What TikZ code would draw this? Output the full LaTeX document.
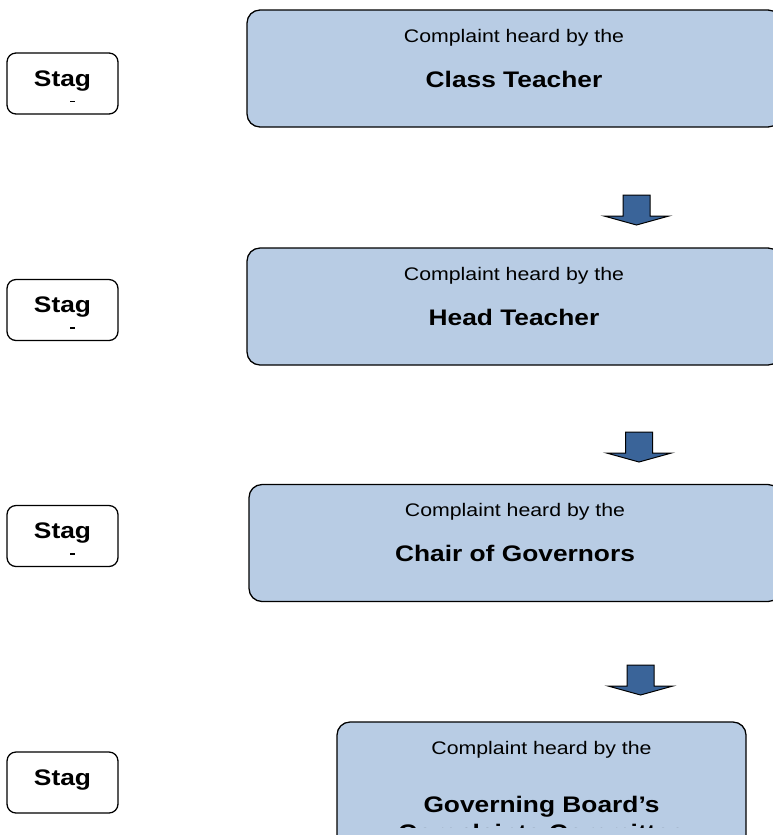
\documentclass[tikz,border=0pt]{standalone}
\usepackage{fontspec}
\setmainfont{Liberation Sans}[FakeStretch=1.17]
\usetikzlibrary{calc}
\definecolor{heardblue}{HTML}{B8CCE4}
\definecolor{dropblue}{HTML}{3A6499}
\def\blockdown(#1){\draw[line width=0.35mm, fill=dropblue, shift={(#1)}] (-13.5, 0) -- (13.5, 0) -- (13.5, 21) -- (32.5, 21) -- (0, 30) -- (-32.5, 21) -- (-13.5, 21) -- cycle;}

\begin{document}
\begin{tikzpicture}[x=1pt, y=-1pt,
		stagebox/.style={draw, line width=0.45mm, rounded corners=9pt, minimum width=111pt, minimum height=61pt, inner sep=0pt},
		heardbox/.style={draw, fill=heardblue, line width=0.45mm, rounded corners=13pt, minimum height=117pt, inner sep=0pt},
		lead/.style={font=\fontsize{18.2}{22}\selectfont, anchor=base, inner sep=0pt},
		who/.style={font=\bfseries\fontsize{22.5}{27}\selectfont, anchor=base, inner sep=0pt}]
		%%%%% START %%%%%
		
		\useasboundingbox (0, 0) rectangle (773, 835);
		
		\node[stagebox] (stage1) at (62.5, 83.5) {};
		\node[who] (stag1) at ([yshift=-34pt]stage1.north) {Stag};
		\fill (70, 100.5) rectangle (75, 102);
		
		\node[stagebox] (stage2) at (62.5, 310) {};
		\node[who] (stag2) at ([yshift=-34pt]stage2.north) {Stag};
		\fill (70, 327) rectangle (75, 328.5);
		
		\node[stagebox] (stage3) at (62.5, 536) {};
		\node[who] (stag3) at ([yshift=-34pt]stage3.north) {Stag};
		\fill (70, 553) rectangle (75, 554.5);
		
		\node[stagebox] (stage4) at (62.5, 782.5) {};
		\node[who] (stag4) at ([yshift=-34pt]stage4.north) {Stag};
		
		\node[heardbox, minimum width=534pt] (heard1) at (514, 68.5) {};
		\node[lead] (lead1) at ([yshift=-33pt]heard1.north) {Complaint heard by the};
		\node[who] (who1) at ([yshift=-78pt]heard1.north) {Class Teacher};
		
		\node[heardbox, minimum width=534pt] (heard2) at (514, 306.5) {};
		\node[lead] (lead2) at ([yshift=-33pt]heard2.north) {Complaint heard by the};
		\node[who] (who2) at ([yshift=-78pt]heard2.north) {Head Teacher};
		
		\node[heardbox, minimum width=532pt] (heard3) at (515, 543) {};
		\node[lead] (lead3) at ([yshift=-33pt]heard3.north) {Complaint heard by the};
		\node[who] (who3) at ([yshift=-78pt]heard3.north) {Chair of Governors};
		
		\node[heardbox, minimum width=409pt, minimum height=140pt] (heard4) at (541.5, 792) {};
		\node[lead] (lead4) at ([yshift=-33pt]heard4.north) {Complaint heard by the};
		\node[who] (who4) at ([yshift=-91pt]heard4.north) {Governing Board’s};
		\begin{scope}
			\clip (337, 722) rectangle (746, 827);
			\node[who] (who4b) at ([yshift=-119pt]heard4.north) {Complaints Committee};
		\end{scope}
		
		\coordinate (drop1) at (636.5, 195);
		\coordinate (drop2) at (639, 432);
		\coordinate (drop3) at (640.5, 665);
		\blockdown(drop1)
		\blockdown(drop2)
		\blockdown(drop3)
		
		%%%%% END %%%%%
\end{tikzpicture}
\end{document}
